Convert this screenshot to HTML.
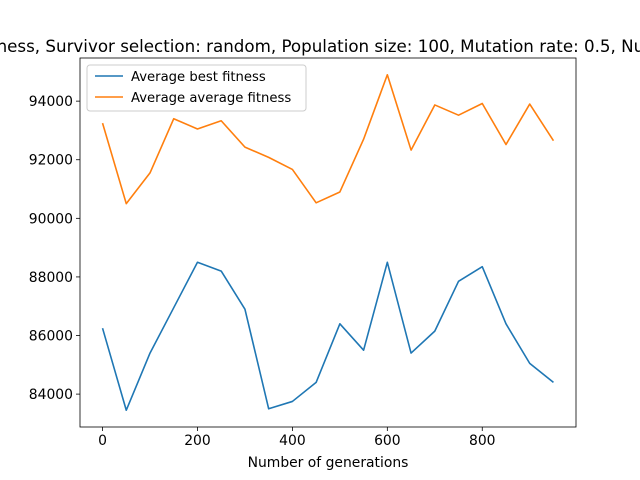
<!DOCTYPE html>
<html><head><meta charset="utf-8"><style>
body{margin:0;background:#fff}
svg{display:block;font-family:"DejaVu Sans","Liberation Sans",sans-serif}
</style></head><body>
<svg id="chart" width="640" height="480" viewBox="0 0 640 480" xmlns="http://www.w3.org/2000/svg">
<rect width="640" height="480" fill="#fff"/>
<text x="-23" y="52" font-size="16.7" fill="#000">Fitness, Survivor selection: random, Population size: 100, Mutation rate: 0.5, Number of crossovers: 1</text>
<g id="plot"></g>
<rect x="80" y="58" width="496" height="369" fill="none" stroke="#000" stroke-width="0.8"/>
<text x="328" y="467" font-size="13.9" text-anchor="middle">Number of generations</text>
<g>
<rect x="87" y="65" width="219" height="46" rx="3" fill="#fff" fill-opacity="0.8" stroke="#ccc"/>
<line x1="95" y1="76" x2="123" y2="76" stroke="#1f77b4" stroke-width="1.6"/>
<text x="131" y="81" font-size="13.2">Average best fitness</text>
<line x1="95" y1="97" x2="123" y2="97" stroke="#ff7f0e" stroke-width="1.6"/>
<text x="131" y="102" font-size="13.2">Average average fitness</text>
</g>
</svg>
<script>
const generations=[0,50,100,150,200,250,300,350,400,450,500,550,600,650,700,750,800,850,900,950];
const bestFitness=[86250,83450,85400,86950,88500,88200,86900,83500,83750,84400,86400,85500,88500,85400,86150,87850,88350,86400,85050,84400];
const avgFitness=[93250,90500,91550,93400,93050,93330,92430,92080,91670,90530,90900,92700,94900,92330,93870,93520,93920,92520,93900,92650];
const xTicks=[0,200,400,600,800];
const yTicks=[84000,86000,88000,90000,92000,94000];

const L=80,R=576,T=58,B=427;
const xmin=-47.5,xmax=997.5;
const all=bestFitness.concat(avgFitness);
const dmin=Math.min(...all),dmax=Math.max(...all),pad=(dmax-dmin)*0.05;
const ymin=dmin-pad,ymax=dmax+pad;
const sx=v=>L+(v-xmin)/(xmax-xmin)*(R-L);
const sy=v=>B-(v-ymin)/(ymax-ymin)*(B-T);
const NS="http://www.w3.org/2000/svg";
const g=document.getElementById('plot');
function mk(t,a){const e=document.createElementNS(NS,t);for(const k in a)e.setAttribute(k,a[k]);g.appendChild(e);return e;}
xTicks.forEach(v=>{
  const l=mk('line',{x1:sx(v),x2:sx(v),y1:B,y2:B+4,stroke:'#000','stroke-width':0.8});
  
  
  const t=mk('text',{x:sx(v),y:B+18,'font-size':13.9,'text-anchor':'middle'});t.textContent=v;
  
  
});
yTicks.forEach(v=>{
  const l=mk('line',{x1:L-4,x2:L,y1:sy(v),y2:sy(v),stroke:'#000','stroke-width':0.8});
  
  
  const t=mk('text',{x:L-7,y:sy(v)+5,'font-size':13.9,'text-anchor':'end'});t.textContent=v;
  
  
});
function line(vals,color,name){
  const p=mk('polyline',{points:vals.map((v,i)=>sx(generations[i])+','+sy(v)).join(' '),fill:'none',stroke:color,'stroke-width':1.6,'stroke-linejoin':'round'});
  
  
}
line(bestFitness,'#1f77b4','best-fitness-line');
line(avgFitness,'#ff7f0e','average-fitness-line');
</script>
</body></html>
